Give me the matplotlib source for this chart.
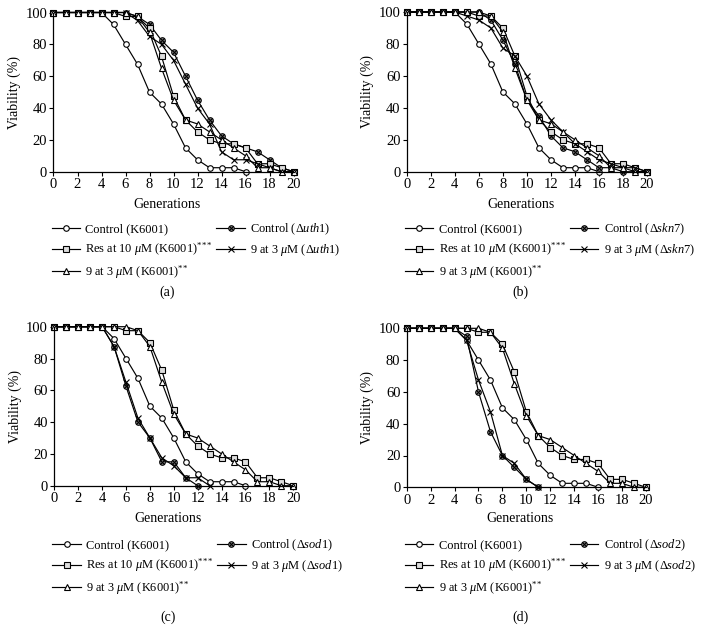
import matplotlib
matplotlib.use("Agg")
import matplotlib.pyplot as plt
from matplotlib.legend_handler import HandlerTuple

plt.rcParams['font.family'] = ['Liberation Serif', 'DejaVu Serif']
plt.rcParams['mathtext.fontset'] = 'custom'
plt.rcParams['mathtext.rm'] = 'Liberation Serif'
plt.rcParams['mathtext.it'] = 'Liberation Serif:italic'
plt.rcParams['font.size'] = 9

W, H = 709, 644

gens = list(range(21))

# shared series (same in every panel)
ctrl_k6001 = [100, 100, 100, 100, 100, 92.5, 80, 67.5, 50, 42.5, 30, 15, 7.5, 2.5, 2.5, 2.5, 0]
res_10 = [100, 100, 100, 100, 100, 100, 97.5, 97.5, 90, 72.5, 47.5, 32.5, 25, 20, 17.5, 17.5, 15, 5, 5, 2.5, 0]
c9_k6001 = [100, 100, 100, 100, 100, 100, 100, 97.5, 87.5, 65, 45, 32.5, 30, 25, 20, 15, 10, 2.5, 2.5, 0, 0]

# mutant series per panel
mutants = ['uth1', 'skn7', 'sod1', 'sod2']
ctrl_mut = {
    'uth1': [100, 100, 100, 100, 100, 100, 100, 97.5, 92.5, 82.5, 75, 60, 45, 32.5, 22.5, 17.5, 15, 12.5, 7.5, 2.5, 0],
    'skn7': [100, 100, 100, 100, 100, 100, 100, 95, 82.5, 67.5, 45, 35, 22.5, 15, 12.5, 7.5, 2.5, 2.5, 0, 0, 0],
    'sod1': [100, 100, 100, 100, 100, 87.5, 62.5, 40, 30, 15, 15, 5, 0],
    'sod2': [100, 100, 100, 100, 100, 95, 60, 35, 20, 12.5, 5, 0],
}
c9_mut = {
    'uth1': [100, 100, 100, 100, 100, 100, 100, 95, 85, 80, 70, 55, 40, 30, 12.5, 7.5, 7.5, 5, 2.5, 0, 0],
    'skn7': [100, 100, 100, 100, 100, 97.5, 95, 90, 77.5, 72.5, 60, 42.5, 32.5, 25, 17.5, 12.5, 7.5, 5, 2.5, 2.5, 0],
    'sod1': [100, 100, 100, 100, 100, 87.5, 65, 42.5, 30, 17.5, 12.5, 5, 5, 0],
    'sod2': [100, 100, 100, 100, 100, 92.5, 67.5, 47.5, 20, 15, 5, 0],
}
captions = ['(a)', '(b)', '(c)', '(d)']
yticks = [0, 20, 40, 60, 80, 100]
xticks = list(range(0, 21, 2))

# axes boxes in pixels: left, right, top, bottom
boxes = [(53.5, 293.5, 12.5, 171.7), (406.7, 647, 12, 171.7),
         (54.3, 293.3, 326.7, 485.7), (406.7, 646, 328.3, 487.3)]
# y positions (px) of xlabel, legend top, caption
text_y = [(205, 222, 292), (205, 222, 292), (519, 538, 617), (519, 538, 617)]

fig = plt.figure(figsize=(W / 100, H / 100), dpi=100)

lw = 0.85
ms = 4
for i, mut in enumerate(mutants):
    l, r, t, b = boxes[i]
    ax = fig.add_axes([l / W, 1 - b / H, (r - l) / W, (b - t) / H])
    kw = dict(color='black', lw=lw, ms=ms, clip_on=False, mew=0.8)
    h1, = ax.plot(gens[:len(ctrl_k6001)], ctrl_k6001, marker='o', mfc='white', **kw)
    x_m = gens[:len(ctrl_mut[mut])]
    h2a, = ax.plot(x_m, ctrl_mut[mut], marker='o', mfc='#9a9a9a', **kw)
    h2b, = ax.plot(x_m, ctrl_mut[mut], ls='none', marker='x', color='black', ms=3, mew=0.8, clip_on=False)
    h3, = ax.plot(gens[:len(res_10)], res_10, marker='s', mfc='#dddddd', **kw)
    h4, = ax.plot(gens[:len(c9_mut[mut])], c9_mut[mut], marker='x', mfc='none', **kw)
    h5, = ax.plot(gens[:len(c9_k6001)], c9_k6001, marker='^', mfc='white', **kw)

    ax.set_xlim(0, 20)
    ax.set_ylim(0, 100)
    ax.set_xticks(xticks)
    ax.set_yticks(yticks)
    ax.spines['top'].set_visible(False)
    ax.spines['right'].set_visible(False)
    ax.spines['left'].set_linewidth(0.9)
    ax.spines['bottom'].set_linewidth(0.9)
    ax.tick_params(direction='out', length=3, width=0.8, labelsize=10.5, pad=1.5)
    ax.set_ylabel('Viability (%)', fontsize=10, labelpad=3)

    cx = (l + r) / 2 - 6
    xl_y, lg_y, cap_y = text_y[i]
    fig.text(cx / W, 1 - xl_y / H, 'Generations', ha='center', va='center', fontsize=10)
    fig.text(cx / W, 1 - cap_y / H, captions[i], ha='center', va='center', fontsize=10)

    labels = ['Control (K6001)',
              r'Res at 10 $\mathit{\mu}$M (K6001)$^{*\!*\!*}$',
              r'9 at 3 $\mathit{\mu}$M (K6001)$^{*\!*}$',
              r'Control ($\Delta$$\mathit{' + mut + '}$)',
              r'9 at 3 $\mathit{\mu}$M ($\Delta$$\mathit{' + mut + '}$)']
    leg = ax.legend([h1, h3, h5, (h2a, h2b), h4], labels, ncol=2,
                    loc='upper left', bbox_to_anchor=((l - 2) / W, 1 - lg_y / H),
                    bbox_transform=fig.transFigure, frameon=False, fontsize=8.9,
                    handlelength=2.3, handletextpad=0.45, columnspacing=0.25,
                    labelspacing=0.4, borderpad=0, borderaxespad=0,
                    handler_map={tuple: HandlerTuple(ndivide=1)})

fig.savefig('out.png', dpi=100)
